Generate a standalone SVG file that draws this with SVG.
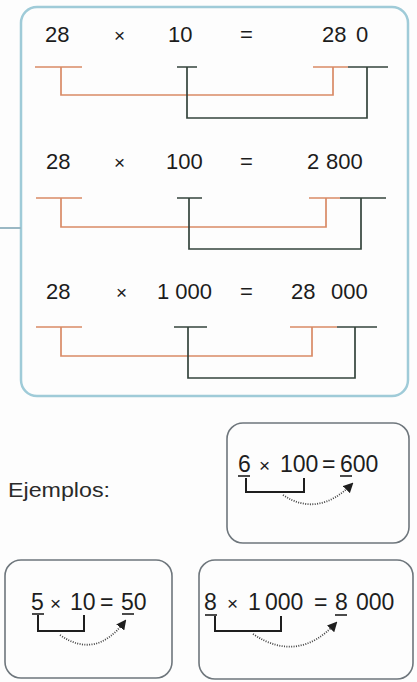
<svg xmlns="http://www.w3.org/2000/svg" width="417" height="682" viewBox="0 0 417 682">
<style>
.big{font-family:"Liberation Sans",Arial,sans-serif;font-size:22px;fill:#1c1c1c}
.times{font-size:19px}
.ex{font-family:"Liberation Sans",Arial,sans-serif;font-size:23px;fill:#1e1e1e}
.exs{font-size:19px}
.lbl{font-family:"Liberation Sans",Arial,sans-serif;font-size:21px;fill:#2a2a2a}
.frame{fill:none;stroke:#9fcbd8;stroke-width:2.5}
.card{fill:none;stroke:#6e767c;stroke-width:1.6}
.or{fill:none;stroke:#d98a66;stroke-width:1.7}
.dk{fill:none;stroke:#34443c;stroke-width:1.7}
.ul{stroke:#1e1e1e;stroke-width:1.6}
.br{fill:none;stroke:#1e1e1e;stroke-width:2}
.dot{fill:none;stroke:#444;stroke-width:1.8;stroke-dasharray:1 1.4}
</style>
<defs>
<marker id="ah" markerWidth="10" markerHeight="10" refX="8" refY="5" orient="auto" markerUnits="userSpaceOnUse">
<path d="M0,0 L10,5 L0,10 Z" fill="#1e1e1e"/>
</marker>
</defs>
<rect width="417" height="682" fill="#fdfdfd"/>

<g id="main-box">
<rect class="frame" x="21" y="7" width="387" height="389" rx="16"/>
<line x1="0" y1="228" x2="21" y2="228" stroke="#9ab8c4" stroke-width="2"/>
</g>

<g id="row1">
<text class="big" y="42"><tspan x="45">28</tspan> <tspan class="times" x="114">×</tspan> <tspan x="168">10</tspan> <tspan x="240">=</tspan> <tspan x="322">28</tspan> <tspan x="356">0</tspan></text>
</g>
<g id="row2">
<text class="big" y="169"><tspan x="46">28</tspan> <tspan class="times" x="114">×</tspan> <tspan x="166">100</tspan> <tspan x="240">=</tspan> <tspan x="307">2</tspan> <tspan x="326">800</tspan></text>
</g>
<g id="row3">
<text class="big" y="299"><tspan x="46">28</tspan> <tspan class="times" x="116">×</tspan> <tspan x="157">1 000</tspan> <tspan x="240">=</tspan> <tspan x="291">28</tspan> <tspan x="331">000</tspan></text>
</g>

<g id="connectors">
<path class="or" d="M35 67 H82 M61 67 V95 H333 V67 M313 67 H348"/>
<path class="dk" d="M177 67 H197 M187 67 V118 H367 V67 M348 67 H388"/>
<path class="or" d="M36 198 H82 M61 198 V227 H326 V198 M309 198 H340"/>
<path class="dk" d="M177 198 H202 M189 198 V249 H361 V198 M340 198 H386"/>
<path class="or" d="M36 327 H82 M61 327 V356 H312 V327 M290 327 H337"/>
<path class="dk" d="M174 327 H207 M188 327 V378 H355 V327 M337 327 H377"/>
</g>

<g id="ejemplos">
<text class="lbl" x="8" y="497" textLength="102" lengthAdjust="spacingAndGlyphs">Ejemplos:</text>
</g>

<g id="example-6x100">
<rect class="card" x="227" y="423" width="182" height="120" rx="16"/>
<text class="ex" y="472"><tspan x="238">6</tspan> <tspan class="exs" x="259">×</tspan> <tspan x="280">100</tspan> <tspan x="322">=</tspan> <tspan x="340">600</tspan></text>
<line class="ul" x1="238" y1="476" x2="250" y2="476"/>
<line class="ul" x1="340" y1="476" x2="352" y2="476"/>
<path class="br" d="M246 478 V492 H304 V478"/>
<path class="dot" d="M283 495 Q318 518 352 484" marker-end="url(#ah)"/>
</g>

<g id="example-5x10">
<rect class="card" x="5" y="560" width="167" height="118" rx="16"/>
<text class="ex" y="610"><tspan x="31">5</tspan> <tspan class="exs" x="50">×</tspan> <tspan x="70">10</tspan> <tspan x="100">=</tspan> <tspan x="121">50</tspan></text>
<line class="ul" x1="32" y1="614" x2="44" y2="614"/>
<line class="ul" x1="122" y1="614" x2="134" y2="614"/>
<path class="br" d="M38 615 V631 H84 V615"/>
<path class="dot" d="M60 635 Q96 660 125 621" marker-end="url(#ah)"/>
</g>

<g id="example-8x1000">
<rect class="card" x="199" y="560" width="214" height="119" rx="16"/>
<text class="ex" y="610"><tspan x="204">8</tspan> <tspan class="exs" x="227">×</tspan> <tspan x="248">1</tspan> <tspan x="265">000</tspan> <tspan x="314">=</tspan> <tspan x="335">8</tspan> <tspan x="356">000</tspan></text>
<line class="ul" x1="205" y1="615" x2="217" y2="615"/>
<line class="ul" x1="335" y1="615" x2="347" y2="615"/>
<path class="br" d="M215 616 V631 H281 V616"/>
<path class="dot" d="M253 634 Q298 664 336 623" marker-end="url(#ah)"/>
</g>
</svg>
